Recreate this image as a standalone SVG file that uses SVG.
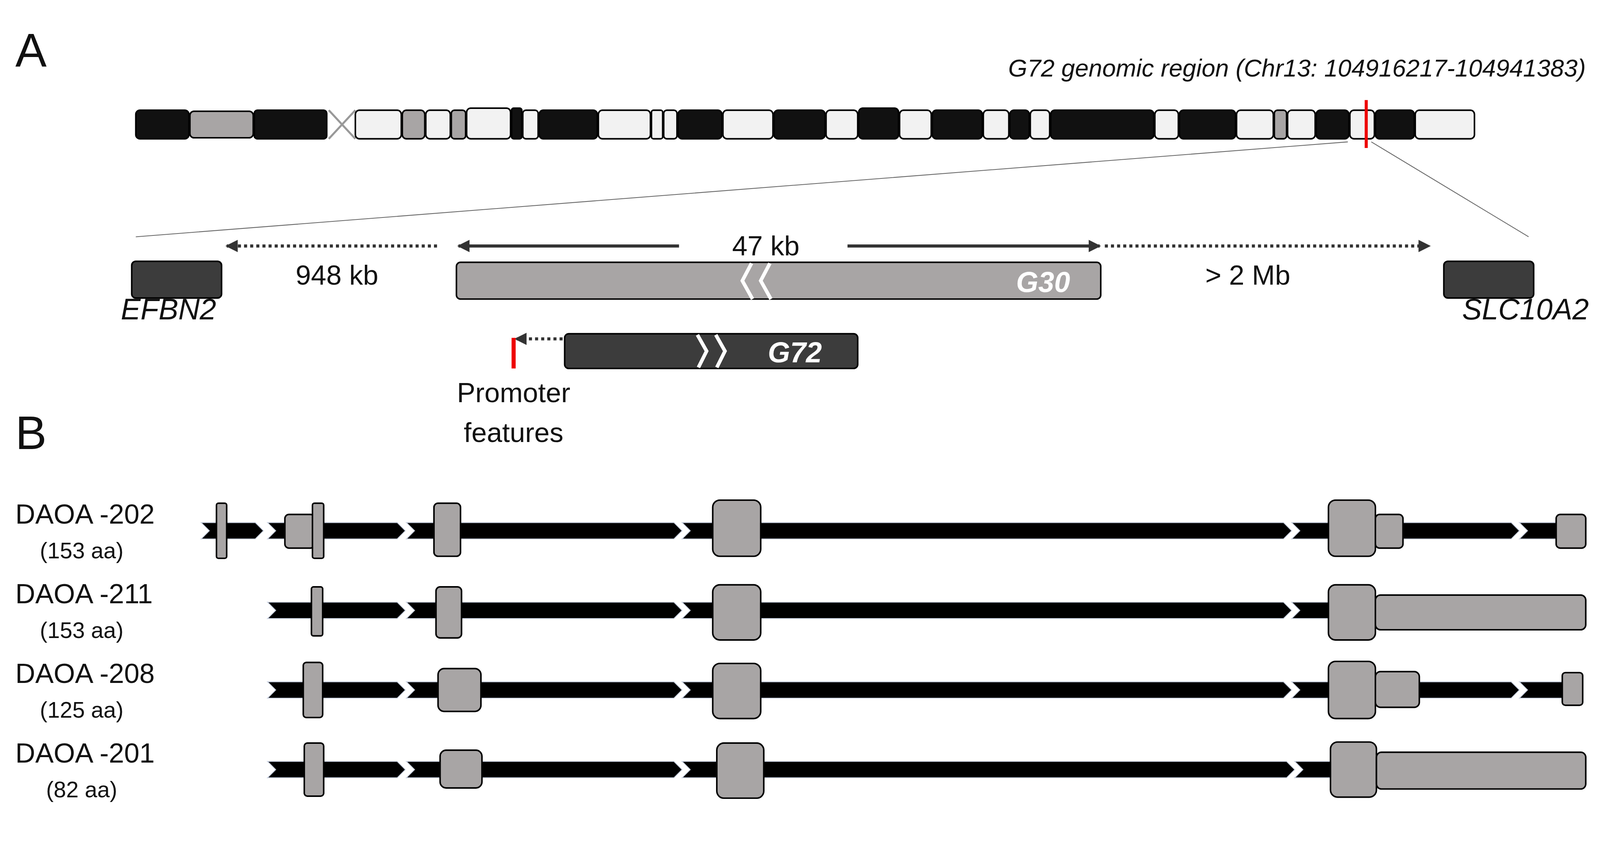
<svg xmlns="http://www.w3.org/2000/svg" width="4295" height="2182" viewBox="0 0 4295 2182">
<defs>
<style>
.k{fill:#111;stroke:#000;stroke-width:1.5}
.w{fill:#f2f2f2;stroke:#000;stroke-width:1.5}
.g{fill:#a8a5a5;stroke:#000;stroke-width:1.5}
.t{font-family:"Liberation Sans",Arial,sans-serif;fill:#111}
.seg{fill:#000;stroke:#c8d0e0;stroke-width:0.8}
.ex{fill:#a8a5a5;stroke:#000;stroke-width:1.5}
</style>
<marker id="ah" viewBox="0 0 10 10" refX="9" refY="5" markerWidth="4" markerHeight="4" orient="auto-start-reverse" markerUnits="strokeWidth"><path d="M0,0L10,5L0,10z" fill="#333"/></marker>
</defs>
<rect width="4295" height="2182" fill="#fff"/>
<g transform="scale(2.614)">
<text class="t" x="15" y="65" font-size="46">A</text>
<text class="t" x="15" y="440" font-size="46">B</text>
<text class="t" x="1553" y="75" font-size="24" font-style="italic" text-anchor="end">G72 genomic region (Chr13: 104916217-104941383)</text>
<g id="chromosome">
<rect class="k" x="133" y="108" width="52" height="28" rx="4"/>
<rect class="g" x="186" y="109" width="62" height="26" rx="4"/>
<rect class="k" x="249" y="108" width="71" height="28" rx="3"/>
<path d="M322,108L348,136M322,136L348,108" stroke="#999" stroke-width="2" fill="none"/>
<rect class="w" x="348" y="108" width="45" height="28" rx="4"/>
<rect class="g" x="394" y="108" width="22" height="28" rx="4"/>
<rect class="w" x="417" y="108" width="24" height="28" rx="4"/>
<rect class="g" x="442" y="108" width="14" height="28" rx="3"/>
<rect class="w" x="457" y="106" width="43" height="30" rx="4"/>
<rect class="k" x="501" y="106" width="10" height="30" rx="2"/>
<rect class="w" x="512" y="108" width="15" height="28" rx="3"/>
<rect class="k" x="528" y="108" width="57" height="28" rx="4"/>
<rect class="w" x="586" y="108" width="51" height="28" rx="4"/>
<rect class="w" x="638" y="108" width="11" height="28" rx="2"/>
<rect class="w" x="650" y="108" width="13" height="28" rx="3"/>
<rect class="k" x="664" y="108" width="43" height="28" rx="4"/>
<rect class="w" x="708" y="108" width="49" height="28" rx="4"/>
<rect class="k" x="758" y="108" width="50" height="28" rx="4"/>
<rect class="w" x="809" y="108" width="31" height="28" rx="4"/>
<rect class="k" x="841" y="106" width="39" height="30" rx="4"/>
<rect class="w" x="881" y="108" width="31" height="28" rx="4"/>
<rect class="k" x="913" y="108" width="49" height="28" rx="4"/>
<rect class="w" x="963" y="108" width="25" height="28" rx="4"/>
<rect class="k" x="989" y="108" width="19" height="28" rx="4"/>
<rect class="w" x="1009" y="108" width="19" height="28" rx="4"/>
<rect class="k" x="1029" y="108" width="101" height="28" rx="4"/>
<rect class="w" x="1131" y="108" width="23" height="28" rx="4"/>
<rect class="k" x="1155" y="108" width="55" height="28" rx="4"/>
<rect class="w" x="1211" y="108" width="36" height="28" rx="4"/>
<rect class="g" x="1248" y="108" width="12" height="28" rx="3"/>
<rect class="w" x="1261" y="108" width="27" height="28" rx="4"/>
<rect class="k" x="1289" y="108" width="32" height="28" rx="4"/>
<rect class="w" x="1322" y="108" width="24" height="28" rx="4"/>
<rect class="k" x="1347" y="108" width="38" height="28" rx="4"/>
<rect class="w" x="1386" y="108" width="58" height="28" rx="4"/>
<line x1="1338" y1="98" x2="1338" y2="145" stroke="#e00" stroke-width="3"/>
</g>
<g id="connectors" fill="none">
<path d="M1320,139L133,232M1343,139L1497,232" stroke="#666" stroke-width="0.8"/>
<line x1="428" y1="241" x2="222" y2="241" stroke="#333" stroke-width="3" stroke-dasharray="3,3" marker-end="url(#ah)"/>
<line x1="665" y1="241" x2="449" y2="241" stroke="#333" stroke-width="3" marker-end="url(#ah)"/>
<line x1="830" y1="241" x2="1077" y2="241" stroke="#333" stroke-width="3" marker-end="url(#ah)"/>
<line x1="1082" y1="241" x2="1400" y2="241" stroke="#333" stroke-width="3" stroke-dasharray="3,3" marker-end="url(#ah)"/>
<line x1="551" y1="332" x2="505" y2="332" stroke="#333" stroke-width="3" stroke-dasharray="3,3" marker-end="url(#ah)"/>
<line x1="503" y1="331" x2="503" y2="361" stroke="#e00" stroke-width="4"/>
</g>
<text class="t" x="330" y="279" font-size="27" text-anchor="middle">948 kb</text>
<text class="t" x="750" y="250" font-size="27" text-anchor="middle">47 kb</text>
<text class="t" x="1222" y="279" font-size="27" text-anchor="middle">&gt; 2 Mb</text>
<g id="EFBN2"><rect x="129" y="256" width="88" height="36" rx="4" fill="#3c3c3c" stroke="#000" stroke-width="1.5"/>
<text class="t" x="165" y="313" font-size="29" font-style="italic" text-anchor="middle">EFBN2</text></g>
<g id="SLC10A2"><rect x="1414" y="256" width="88" height="36" rx="4" fill="#3c3c3c" stroke="#000" stroke-width="1.5"/>
<text class="t" x="1556" y="313" font-size="29" font-style="italic" text-anchor="end">SLC10A2</text></g>
<g id="G30"><rect x="447" y="257" width="631" height="36" rx="4" fill="#a8a5a5" stroke="#000" stroke-width="1.5"/>
<path d="M736,258L727,275L737,293M754,258L745,275L755,293" stroke="#fff" stroke-width="3.5" fill="none"/>
<text x="1048" y="286" font-size="28" font-style="italic" font-weight="bold" fill="#fff" text-anchor="end" font-family="Liberation Sans,Arial,sans-serif">G30</text></g>
<g id="G72"><rect x="553" y="327" width="287" height="34" rx="4" fill="#3c3c3c" stroke="#000" stroke-width="1.5"/>
<path d="M683,328L692,344L684,360M701,328L710,344L702,360" stroke="#fff" stroke-width="3.5" fill="none"/>
<text x="752" y="355" font-size="28" font-style="italic" font-weight="bold" fill="#fff" font-family="Liberation Sans,Arial,sans-serif">G72</text></g>
<g id="promoter"><text class="t" x="503" y="394" font-size="27" text-anchor="middle">Promoter</text>
<text class="t" x="503" y="433" font-size="27" text-anchor="middle">features</text></g>

<g id="DAOA-202">
<text class="t" x="15" y="513" font-size="27">DAOA -202</text><text class="t" x="80" y="547" font-size="22" text-anchor="middle">(153 aa)</text>
<path class="seg" d="M197,512H250L258,520L250,528H197L205,520z M262,512H389L397,520L389,528H262L270,520z M398,512H660L668,520L660,528H398L406,520z M668,512H1257L1265,520L1257,528H668L676,520z M1265,512H1480L1488,520L1480,528H1265L1273,520z M1488,512H1530V528H1488L1496,520z"/>
<rect class="ex" x="212" y="493" width="10" height="54" rx="2"/>
<rect class="ex" x="279" y="504" width="29" height="33" rx="4"/>
<rect class="ex" x="306" y="493" width="11" height="54" rx="2"/>
<rect class="ex" x="425" y="493" width="26" height="52" rx="4"/>
<rect class="ex" x="698" y="490" width="47" height="55" rx="7"/>
<rect class="ex" x="1301" y="490" width="46" height="55" rx="7"/>
<rect class="ex" x="1347" y="504" width="27" height="33" rx="4"/>
<rect class="ex" x="1524" y="504" width="29" height="33" rx="4"/>
</g>
<g id="DAOA-211">
<text class="t" x="15" y="591" font-size="27">DAOA -211</text><text class="t" x="80" y="625" font-size="22" text-anchor="middle">(153 aa)</text>
<path class="seg" d="M262,590H389L397,598L389,606H262L270,598z M398,590H660L668,598L660,606H398L406,598z M668,590H1257L1265,598L1257,606H668L676,598z M1265,590H1310V606H1265L1273,598z"/>
<rect class="ex" x="305" y="575" width="11" height="48" rx="2"/>
<rect class="ex" x="427" y="575" width="25" height="50" rx="4"/>
<rect class="ex" x="698" y="573" width="47" height="54" rx="7"/>
<rect class="ex" x="1301" y="573" width="46" height="54" rx="7"/>
<rect class="ex" x="1347" y="583" width="206" height="34" rx="5"/>
</g>
<g id="DAOA-208">
<text class="t" x="15" y="669" font-size="27">DAOA -208</text><text class="t" x="80" y="703" font-size="22" text-anchor="middle">(125 aa)</text>
<path class="seg" d="M262,668H389L397,676L389,684H262L270,676z M398,668H660L668,676L660,684H398L406,676z M668,668H1257L1265,676L1257,684H668L676,676z M1265,668H1480L1488,676L1480,684H1265L1273,676z M1488,668H1535V684H1488L1496,676z"/>
<rect class="ex" x="297" y="649" width="19" height="54" rx="3"/>
<rect class="ex" x="429" y="655" width="42" height="42" rx="6"/>
<rect class="ex" x="698" y="650" width="47" height="54" rx="7"/>
<rect class="ex" x="1301" y="648" width="46" height="56" rx="7"/>
<rect class="ex" x="1347" y="658" width="43" height="35" rx="5"/>
<rect class="ex" x="1530" y="659" width="20" height="32" rx="3"/>
</g>
<g id="DAOA-201">
<text class="t" x="15" y="747" font-size="27">DAOA -201</text><text class="t" x="80" y="781" font-size="22" text-anchor="middle">(82 aa)</text>
<path class="seg" d="M262,746H389L397,754L389,762H262L270,754z M398,746H660L668,754L660,762H398L406,754z M668,746H1260L1268,754L1260,762H668L676,754z M1268,746H1310V762H1268L1276,754z"/>
<rect class="ex" x="298" y="728" width="19" height="52" rx="3"/>
<rect class="ex" x="431" y="735" width="41" height="37" rx="6"/>
<rect class="ex" x="702" y="728" width="46" height="54" rx="7"/>
<rect class="ex" x="1303" y="727" width="45" height="54" rx="7"/>
<rect class="ex" x="1348" y="737" width="205" height="36" rx="5"/>
</g>
</g>
</svg>
